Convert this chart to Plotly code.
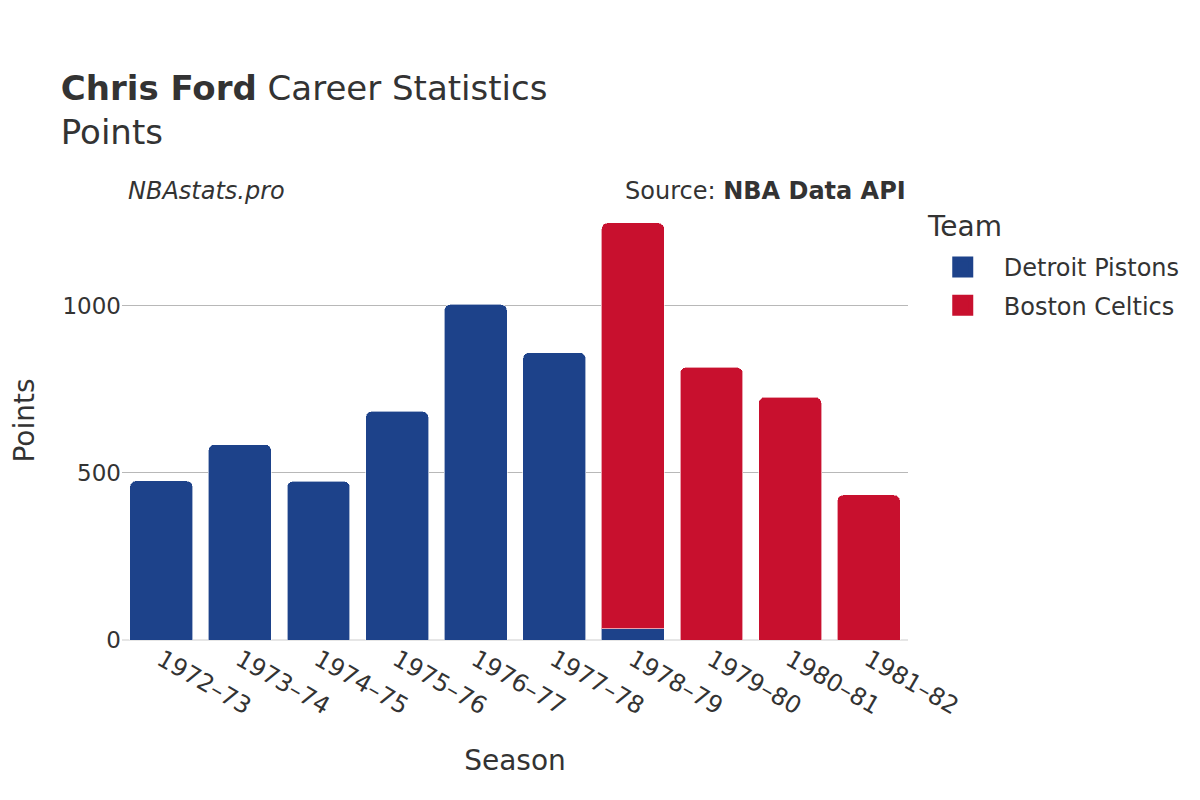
import plotly.graph_objects as go

seasons = ["1972–73", "1973–74", "1974–75", "1975–76", "1976–77",
           "1977–78", "1978–79", "1979–80", "1980–81", "1981–82"]
detroit_seasons = ["1972–73", "1973–74", "1974–75", "1975–76", "1976–77", "1977–78", "1978–79"]
detroit_points = [476, 585, 475, 684, 1004, 860, 33]
boston_seasons = ["1978–79", "1979–80", "1980–81", "1981–82"]
boston_points = [1215, 816, 727, 434]

teams = ["Detroit Pistons", "Boston Celtics"]
team_colors = ["#1d428a", "#c8102e"]

font_family = "DejaVu Sans"
text_color = "#333333"

fig = go.Figure()
fig.add_trace(go.Bar(x=detroit_seasons, y=detroit_points, name=teams[0], showlegend=False,
                     marker=dict(color=team_colors[0], line=dict(color="rgba(255,255,255,0.6)", width=1))))
fig.add_trace(go.Bar(x=boston_seasons, y=boston_points, name=teams[1], showlegend=False,
                     marker=dict(color=team_colors[1], line=dict(color="rgba(255,255,255,0.6)", width=1))))
# legend entries
for name, col in zip(teams, team_colors):
    fig.add_trace(go.Scatter(x=[None], y=[None], mode="markers", name=name, legendgroup=name,
                             marker=dict(symbol="square", size=16, color=col,
                                         line=dict(color=col, width=5))))

fig.update_layout(
    width=1200, height=800,
    barmode="stack",
    bargap=0.2,
    barcornerradius=6,
    plot_bgcolor="white", paper_bgcolor="white",
    font=dict(family=font_family, color=text_color, size=23),
    title=dict(text="<b>Chris Ford</b> Career Statistics<br>Points",
               x=0.044, xanchor="left", y=0.885, yanchor="top",
               font=dict(size=34, color=text_color)),
    margin=dict(l=114, r=300, t=193, b=168),
    xaxis=dict(title=dict(text="Season", font=dict(size=28), standoff=30), categoryorder="array",
               categoryarray=seasons, tickangle=30, tickfont=dict(size=24),
               showline=False, ticks="", automargin=False),
    yaxis=dict(title=dict(text="Points", font=dict(size=28), standoff=30), tickvals=[0, 500, 1000],
               gridcolor="#b8b8b8", gridwidth=1, zeroline=True, zerolinecolor="#e6e6e6",
               zerolinewidth=2, tickfont=dict(size=23), ticks="", automargin=False),
    legend=dict(x=1.0175, y=0.90,
                xanchor="left", yanchor="top", font=dict(size=24), traceorder="grouped",
                tracegroupgap=4, itemwidth=72),
    annotations=[
        dict(text="<i>NBAstats.pro</i>", xref="paper", yref="paper", x=0.005, y=0.987,
             xanchor="left", yanchor="bottom", showarrow=False, font=dict(size=24)),
        dict(text="Source: <b>NBA Data API</b>", xref="paper", yref="paper", x=1.0, y=0.987,
             xanchor="right", yanchor="bottom", showarrow=False, font=dict(size=24)),
        dict(text="Team", xref="paper", yref="paper", x=1.0215, y=0.943,
             xanchor="left", yanchor="middle", showarrow=False, font=dict(size=28)),
    ],
)

fig.write_html("out.html")
